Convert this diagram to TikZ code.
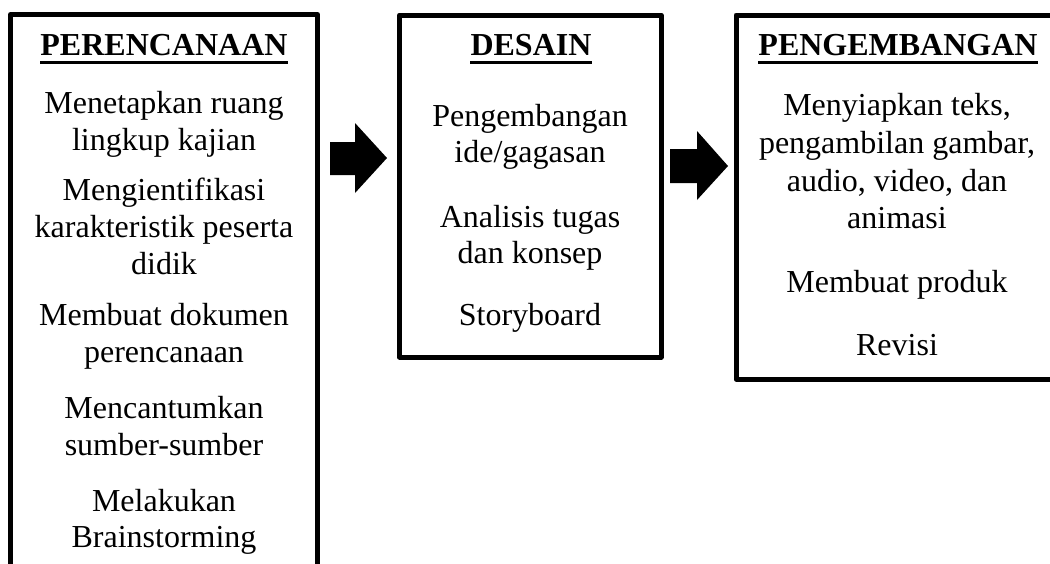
\documentclass[tikz,border=0pt]{standalone}
\usepackage{fontspec}
\setmainfont{Liberation Serif}
\begin{document}
\begin{tikzpicture}[x=1pt,y=-1pt,
  box/.style={draw, line width=5pt, line join=round},
  txt/.style={anchor=base, inner sep=0pt, font=\fontsize{32}{37}\selectfont},
  ttl/.style={anchor=base, inner sep=0pt, font=\fontsize{32}{37}\selectfont\bfseries},
  uline/.style={line width=3pt},
  blockarrow/.style={fill=black}]
\useasboundingbox (0,0) rectangle (1050,563);
\clip (0,0) rectangle (1050,563);
% boxes
\draw[box] (10.5,14.5) rectangle (317.5,590);
\draw[box] (399.5,15) rectangle (661,357);
\draw[box] (736,15) rectangle (1070,379);
% titles
\node[ttl] (t1) at (164,55) {PERENCANAAN};
\node[ttl] (t2) at (531,55) {DESAIN};
\node[ttl] (t3) at (898,55) {PENGEMBANGAN};
\foreach \t in {t1,t2,t3}
  \draw[uline] ([yshift=-7pt]\t.base west) -- ([yshift=-7pt]\t.base east);
% left box text
\node[txt] (a1) at (164,113) {Menetapkan ruang};
\node[txt] (a2) at (164,150) {lingkup kajian};
\node[txt] (a3) at (164,200) {Mengientifikasi};
\node[txt] (a4) at (164,237) {karakteristik peserta};
\node[txt] (a5) at (164,274) {didik};
\node[txt] (a6) at (164,325) {Membuat dokumen};
\node[txt] (a7) at (164,362) {perencanaan};
\node[txt] (a8) at (164,418) {Mencantumkan};
\node[txt] (a9) at (164,455) {sumber-sumber};
\node[txt] (a10) at (164,511) {Melakukan};
\node[txt] (a11) at (164,547) {Brainstorming};
% middle box text
\node[txt] (b1) at (530,126) {Pengembangan};
\node[txt] (b2) at (530,162) {ide/gagasan};
\node[txt] (b3) at (530,227) {Analisis tugas};
\node[txt] (b4) at (530,263) {dan konsep};
\node[txt] (b5) at (530,325) {Storyboard};
% right box text
\node[txt] (c1) at (897,115) {Menyiapkan teks,};
\node[txt] (c2) at (897,153) {pengambilan gambar,};
\node[txt] (c3) at (897,191) {audio, video, dan};
\node[txt] (c4) at (897,228) {animasi};
\node[txt] (c5) at (897,292) {Membuat produk};
\node[txt] (c6) at (897,355) {Revisi};
% block arrows
\fill[blockarrow] (330,142) -- (355,142) -- (355,123) -- (387,158) -- (355,193) -- (355,175) -- (330,175) -- cycle;
\fill[blockarrow] (670,149) -- (697,149) -- (697,131) -- (728,166) -- (697,200) -- (697,183) -- (670,183) -- cycle;
\end{tikzpicture}
\end{document}
